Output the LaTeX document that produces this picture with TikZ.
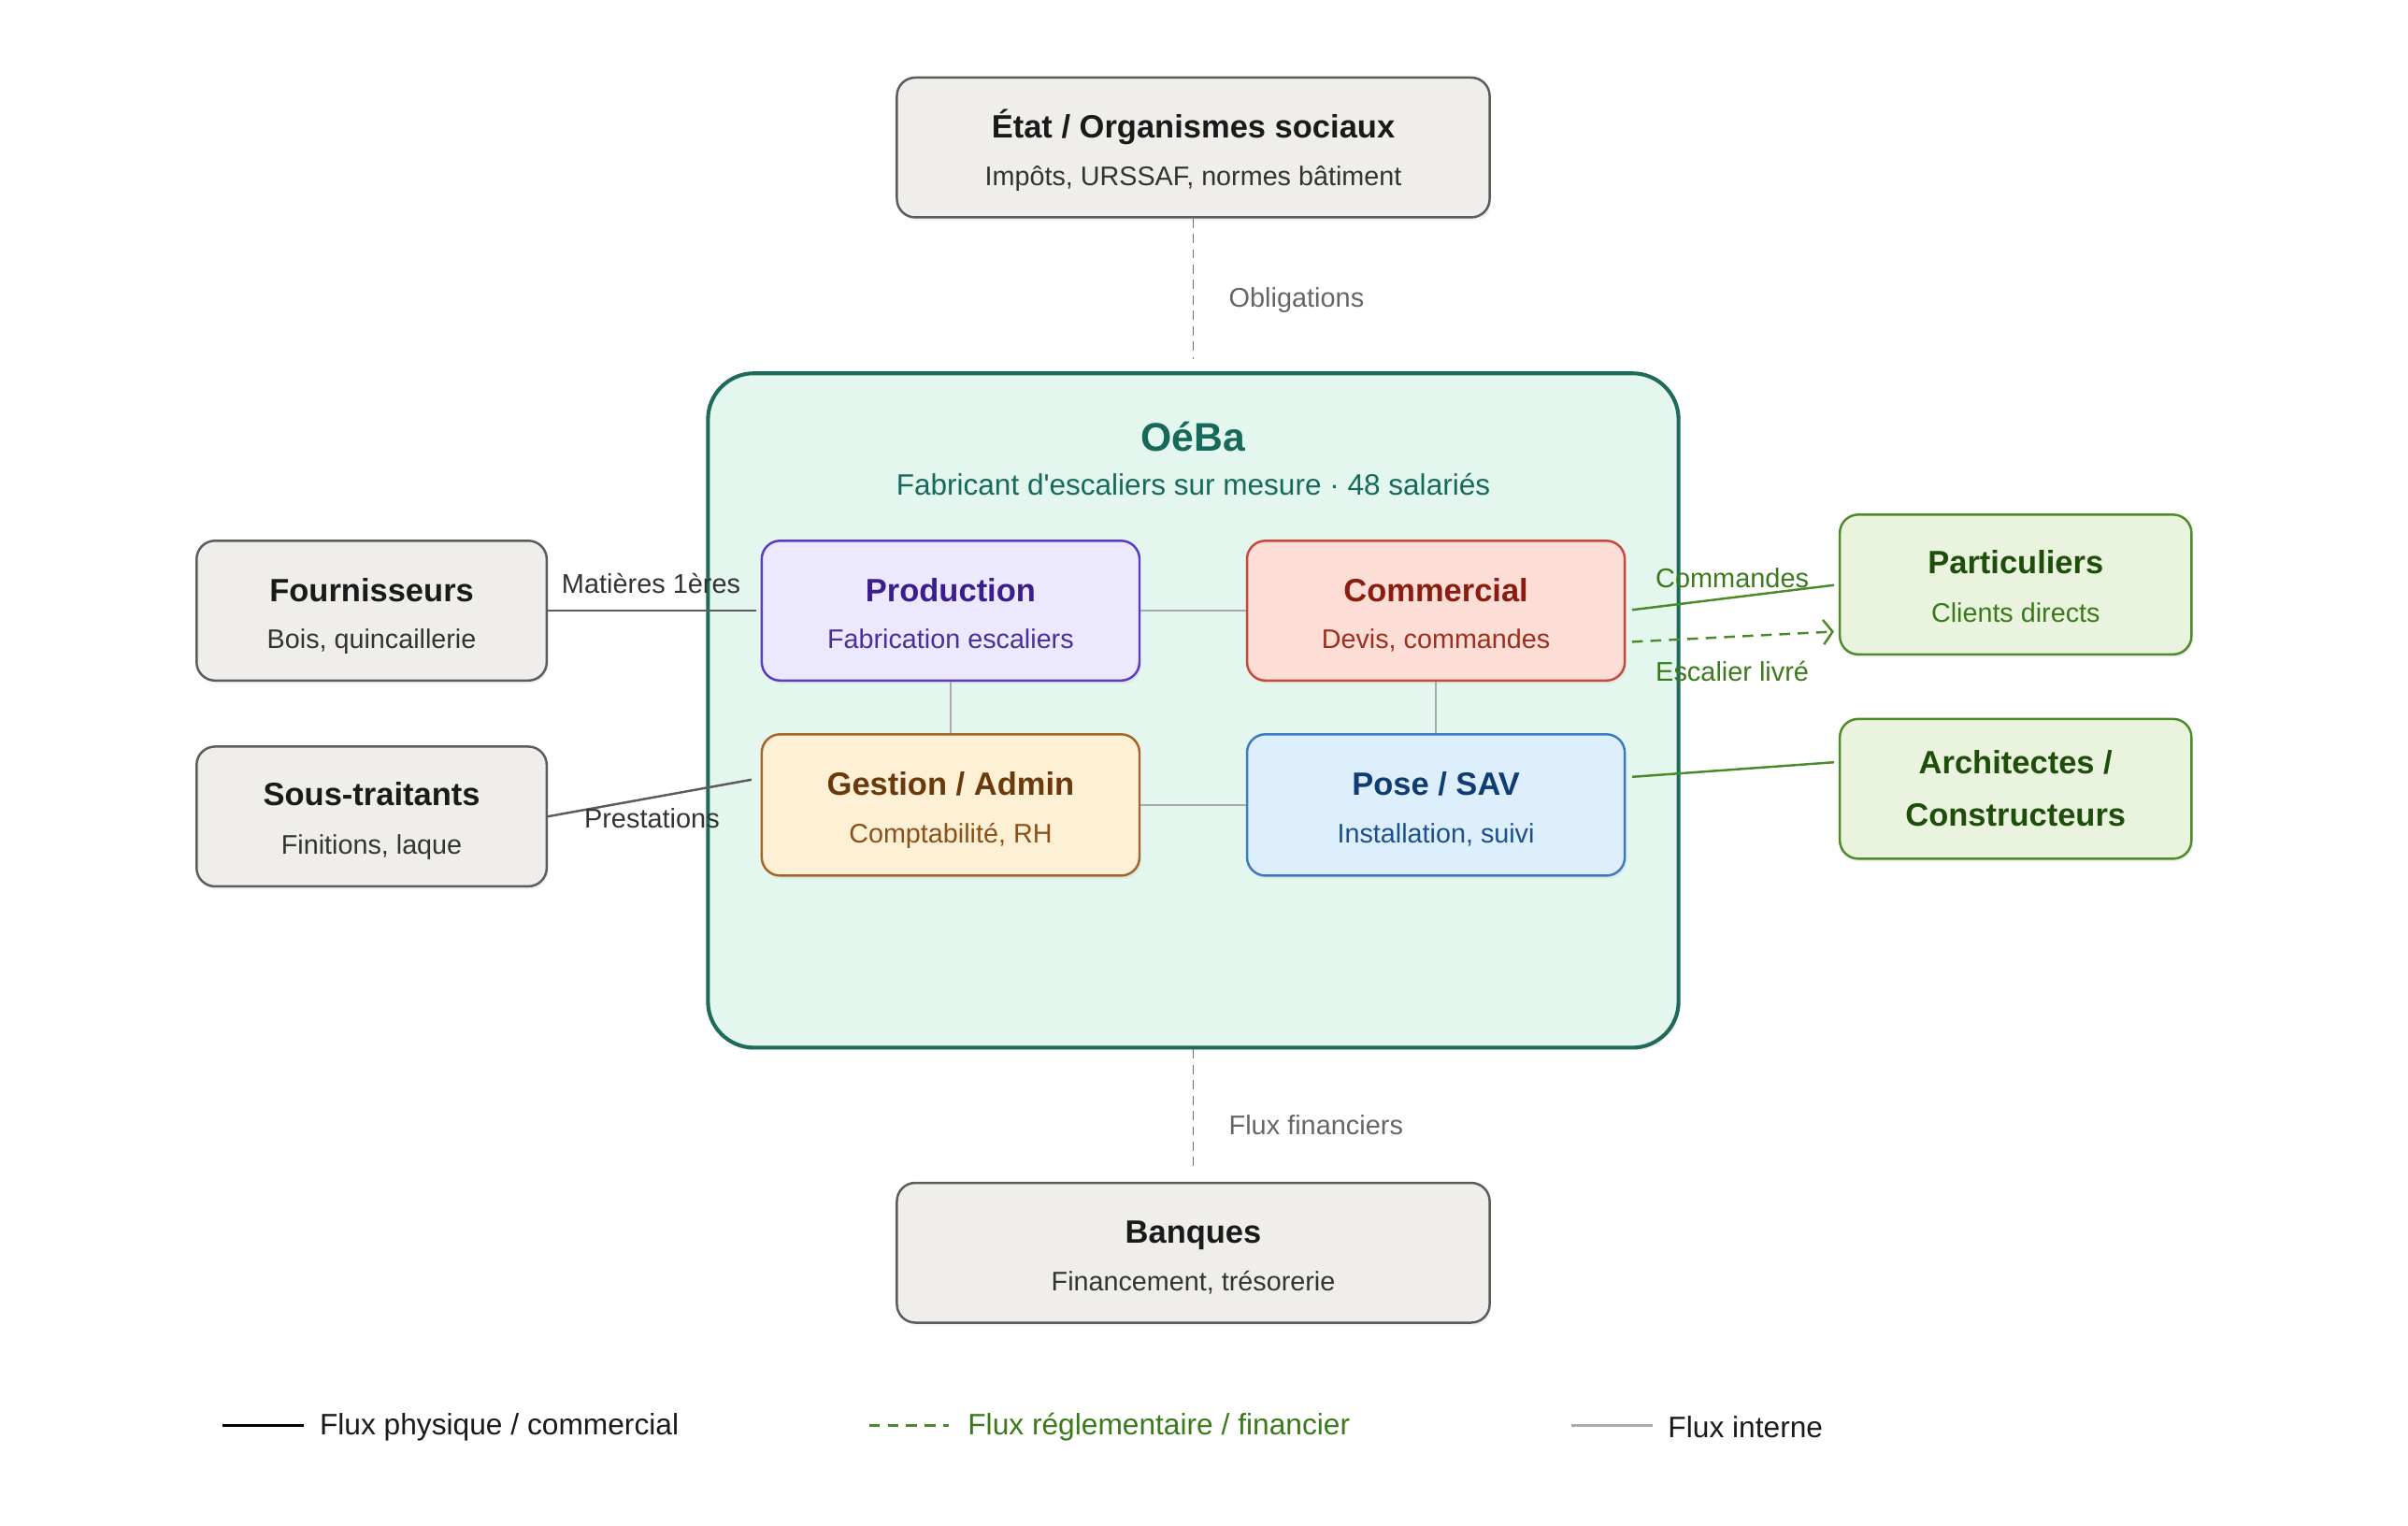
\documentclass[tikz,border=0pt]{standalone}
\usepackage{fontspec}
\setmainfont{Liberation Sans}[Ligatures=TeXOff]
\usetikzlibrary{arrows.meta,shadows}
\definecolor{extfill}{HTML}{EFEEEB}
\definecolor{extdraw}{HTML}{5C5C5C}
\definecolor{exttext}{HTML}{1A1A1A}
\definecolor{extsub}{HTML}{333333}
\definecolor{oefill}{HTML}{E3F7EE}
\definecolor{oedraw}{HTML}{1E6B5C}
\definecolor{oetext}{HTML}{17695A}
\definecolor{prfill}{HTML}{ECE8FD}
\definecolor{prdraw}{HTML}{5A3CC4}
\definecolor{prtext}{HTML}{3B1D8E}
\definecolor{prsub}{HTML}{4A2E9E}
\definecolor{cofill}{HTML}{FDDED6}
\definecolor{codraw}{HTML}{C9483C}
\definecolor{cotext}{HTML}{8A1C10}
\definecolor{cosub}{HTML}{9E2E1E}
\definecolor{gefill}{HTML}{FEF0D5}
\definecolor{gedraw}{HTML}{A5642B}
\definecolor{getext}{HTML}{6A3A0C}
\definecolor{gesub}{HTML}{8A5018}
\definecolor{pofill}{HTML}{DDEEFC}
\definecolor{podraw}{HTML}{3D7AC4}
\definecolor{potext}{HTML}{0F3C73}
\definecolor{posub}{HTML}{1D4F8C}
\definecolor{grfill}{HTML}{E9F3DD}
\definecolor{grdraw}{HTML}{4F8A2B}
\definecolor{grtext}{HTML}{1E4D0C}
\definecolor{grsub}{HTML}{3A7A1A}
\definecolor{grline}{HTML}{4A8A28}
\definecolor{dashgray}{HTML}{707070}
\definecolor{labgray}{HTML}{666666}
\definecolor{intgray}{HTML}{AAAAAA}
\begin{document}
\begin{tikzpicture}[x=1pt,y=-1pt,
  box/.style={rectangle, rounded corners=12pt, line width=1.5pt, inner sep=0pt,
     drop shadow={opacity=0.10, shadow xshift=1pt, shadow yshift=-2pt}},
  ext/.style={box, fill=extfill, draw=extdraw, minimum width=228pt, minimum height=91pt},
  extwide/.style={box, fill=extfill, draw=extdraw, minimum width=386pt, minimum height=91pt},
  grbox/.style={box, fill=grfill, draw=grdraw, minimum width=229pt, minimum height=91pt},
  inner/.style={box, minimum width=246pt, minimum height=91pt},
  ttl/.style={anchor=base, inner sep=0pt, font=\fontsize{21}{24}\selectfont\bfseries},
  subt/.style={anchor=base, inner sep=0pt, font=\fontsize{17.5}{20}\selectfont},
  lab/.style={inner sep=0pt, font=\fontsize{17.6}{20}\selectfont},
  phys/.style={draw=extdraw, line width=1.5pt},
  green/.style={draw=grline, line width=1.5pt},
  intern/.style={draw=intgray, line width=1pt},
  obl/.style={draw=dashgray, line width=1pt, dash pattern=on 6pt off 4pt},
  legtxt/.style={anchor=west, inner sep=0pt, font=\fontsize{19.3}{22}\selectfont},
]
\path[use as bounding box] (0,0) rectangle (1568,993);

% central organisation
\node[box, rounded corners=30pt, line width=2.5pt, fill=oefill, draw=oedraw,
      minimum width=632pt, minimum height=439pt] (oeba) at (777,462.5) {};
\node[anchor=base, inner sep=0pt, text=oetext, font=\fontsize{26}{30}\selectfont\bfseries] (oebaT) at (777,293.5) {OéBa};
\node[anchor=base, inner sep=0pt, text=oetext, font=\fontsize{19.2}{22}\selectfont] (oebaS) at (777,322.5) {Fabricant d'escaliers sur mesure · 48 salariés};

% external grey boxes
\node[extwide] (etat) at (777,96) {};
\node[ttl, text=exttext] (etatT) at (777,89.5) {État / Organismes sociaux};
\node[subt, text=extsub] (etatS) at (777,121) {Impôts, URSSAF, normes bâtiment};

\node[extwide] (banq) at (777,815.5) {};
\node[ttl, text=exttext] (banqT) at (777,809.5) {Banques};
\node[subt, text=extsub] (banqS) at (777,840) {Financement, trésorerie};

\node[ext] (fourn) at (242,397.5) {};
\node[ttl, text=exttext] (fournT) at (242,391.5) {Fournisseurs};
\node[subt, text=extsub] (fournS) at (242,422) {Bois, quincaillerie};

\node[ext] (sous) at (242,531.5) {};
\node[ttl, text=exttext] (sousT) at (242,524.5) {Sous-traitants};
\node[subt, text=extsub] (sousS) at (242,556) {Finitions, laque};

% green client boxes
\node[grbox] (part) at (1312.5,380.5) {};
\node[ttl, text=grtext] (partT) at (1312.5,373.5) {Particuliers};
\node[subt, text=grsub] (partS) at (1312.5,405) {Clients directs};

\node[grbox] (arch) at (1312.5,513.5) {};
\node[ttl, text=grtext] (archT) at (1312.5,503.5) {Architectes /};
\node[ttl, text=grtext] (archT2) at (1312.5,537.5) {Constructeurs};

% inner departments
\node[inner, fill=prfill, draw=prdraw] (prod) at (619,397.5) {};
\node[ttl, text=prtext] (prodT) at (619,391.5) {Production};
\node[subt, text=prsub] (prodS) at (619,422) {Fabrication escaliers};

\node[inner, fill=cofill, draw=codraw] (comm) at (935,397.5) {};
\node[ttl, text=cotext] (commT) at (935,391.5) {Commercial};
\node[subt, text=cosub] (commS) at (935,422) {Devis, commandes};

\node[inner, fill=gefill, draw=gedraw, minimum height=92pt] (gest) at (619,524) {};
\node[ttl, text=getext] (gestT) at (619,517.5) {Gestion / Admin};
\node[subt, text=gesub] (gestS) at (619,549) {Comptabilité, RH};

\node[inner, fill=pofill, draw=podraw, minimum height=92pt] (pose) at (935,524) {};
\node[ttl, text=potext] (poseT) at (935,517.5) {Pose / SAV};
\node[subt, text=posub] (poseS) at (935,549) {Installation, suivi};

% internal flows
\draw[intern] (prod.east) -- (comm.west);
\draw[intern] (gest.east) -- (pose.west);
\draw[intern] (prod.south) -- (gest.north);
\draw[intern] (comm.south) -- (pose.north);

% regulatory / financial dashed
\draw[obl, shorten >=8pt] (etat.south) -- (oeba.north);
\node[lab, anchor=west, text=labgray] (oblL) at (800,195.5) {Obligations};
\draw[obl, shorten >=8pt] (oeba.south) -- (banq.north);
\node[lab, anchor=west, text=labgray] (finL) at (800,732.5) {Flux financiers};

% physical flows
\draw[phys, shorten >=3pt] (fourn.east) -- (prod.west);
\node[lab, text=extsub] (matL) at (424,380) {Matières 1ères};
\draw[phys, shorten >=3pt] (sous.east) -- ([xshift=-3pt,yshift=17pt]gest.west);
\node[lab, text=extsub] (preL) at (424.5,533) {Prestations};

% client flows
\draw[green, shorten <=4pt, shorten >=3pt] (comm.east) -- (part.west);
\node[lab, text=grsub] (cmdL) at (1128,376) {Commandes};
\draw[green, dash pattern=on 7pt off 5pt, shorten <=4pt, shorten >=3pt,
      -{Straight Barb[length=6pt,width=16pt,line width=1.5pt]}]
      ([yshift=-20.5pt]comm.east) -- ([yshift=-30.5pt]part.west);
\node[lab, text=grsub] (livL) at (1128,437) {Escalier livré};
\draw[green, shorten <=4pt, shorten >=3pt] ([yshift=18pt]pose.east) -- ([yshift=17.5pt]arch.west);

% legend
\coordinate (l1a) at (145,928);
\coordinate (l1b) at (198,928);
\draw[draw=black, line width=2pt] (l1a) -- (l1b);
\node[legtxt, text=exttext] (leg1) at (208,929) {Flux physique / commercial};
\coordinate (l2a) at (566,928);
\coordinate (l2b) at (618,928);
\draw[draw=grline, line width=1.5pt, dash pattern=on 7pt off 5pt] (l2a) -- (l2b);
\node[legtxt, text=grsub] (leg2) at (630,929) {Flux réglementaire / financier};
\coordinate (l3a) at (1023,928);
\coordinate (l3b) at (1076,928);
\draw[draw=intgray, line width=1.5pt] (l3a) -- (l3b);
\node[legtxt, text=exttext] (leg3) at (1086,929) {Flux interne};
\end{tikzpicture}
\end{document}
